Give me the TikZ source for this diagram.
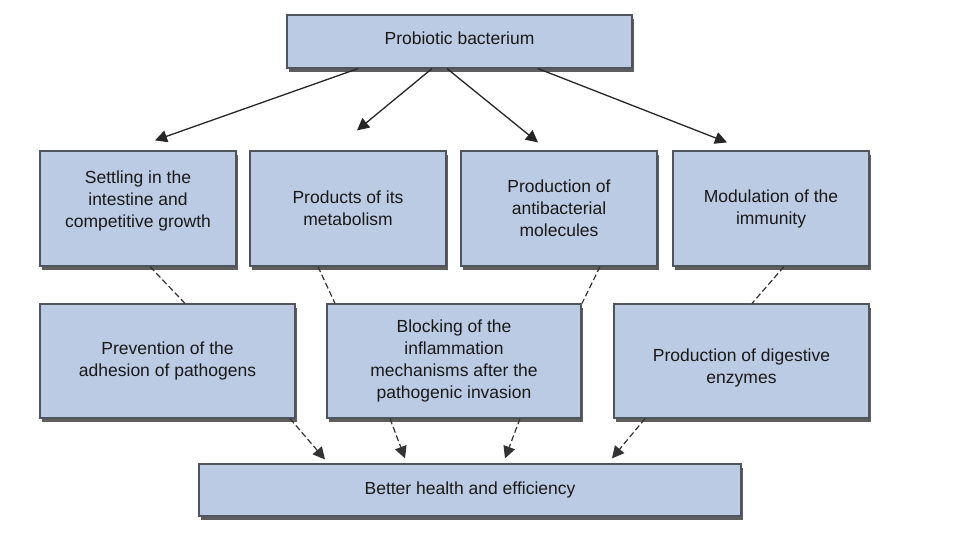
\documentclass[tikz,border=0pt]{standalone}
\usepackage{fontspec}
\setmainfont{Liberation Sans}
\usetikzlibrary{shadows,arrows.meta}
\definecolor{boxfill}{RGB}{188,203,228}
\definecolor{boxline}{RGB}{80,84,92}
\begin{document}
\begin{tikzpicture}[x=1pt,y=-1pt,
  box/.style={draw=boxline, line width=1.2pt, fill=boxfill, align=center,
    inner sep=0pt, font=\fontsize{17.5}{22}\selectfont, text=black!90,
    drop shadow={shadow xshift=2pt, shadow yshift=-4pt, fill=black!70, opacity=0.9}},
  arr/.style={line width=1.3pt, draw=black!85, -{Triangle[length=12pt,width=12pt]}},
  dsh/.style={line width=1.2pt, draw=black!80, dash pattern=on 6pt off 3pt},
  darr/.style={dsh, -{Triangle[length=12pt,width=12pt]}}]
\useasboundingbox (0,0) rectangle (960,540);
% top
\node[box, minimum width=345pt, minimum height=53pt] (top) at (459.5,41.5) {Probiotic bacterium\\[-15pt]};
% row 2
\node[box, minimum width=196pt, minimum height=115pt] (s1) at (138,208.5) {Settling in the\\intestine and\\competitive growth\\[-3pt]};
\node[box, minimum width=196pt, minimum height=115pt] (s2) at (348,208.5) {Products of its\\metabolism};
\node[box, minimum width=196pt, minimum height=115pt] (s3) at (559,208.5) {Production of\\antibacterial\\molecules};
\node[box, minimum width=196pt, minimum height=115pt] (s4) at (771,208.5) {Modulation of the\\immunity};
% row 3
\node[box, minimum width=255pt, minimum height=114pt] (r1) at (167.5,361) {Prevention of the\\adhesion of pathogens};
\node[box, minimum width=254pt, minimum height=114pt] (r2) at (454,361) {Blocking of the\\inflammation\\mechanisms after the\\pathogenic invasion};
\node[box, minimum width=255pt, minimum height=114pt] (r3) at (741.5,361) {Production of digestive\\enzymes\\[-33pt]};
% bottom
\node[box, minimum width=542pt, minimum height=52pt] (bot) at (470,490) {Better health and efficiency};
% solid arrows
\draw[arr] (top.south -| 358,0) -- ([yshift=10pt]s1.north -| 155,0);
\draw[arr] (top.south -| 432,0) -- ([yshift=20pt]s2.north -| 357,0);
\draw[arr] (top.south -| 447,0) -- ([yshift=8pt]s3.north -| 538,0);
\draw[arr] (top.south -| 538,0) -- ([yshift=8pt]s4.north -| 727,0);
% dashed links
\draw[dsh] (s1.south -| 150,0) -- (r1.north -| 185,0);
\draw[dsh] (s2.south -| 318,0) -- (r2.north -| 335,0);
\draw[dsh] (s3.south -| 600,0) -- (r2.north -| 582,0);
\draw[dsh] (s4.south -| 784,0) -- (r3.north -| 752,0);
% dashed arrows
\draw[darr] (r1.south -| 290,0) -- ([yshift=4pt]bot.north -| 325,0);
\draw[darr] (r2.south -| 390,0) -- ([yshift=5pt]bot.north -| 405,0);
\draw[darr] (r2.south -| 520,0) -- ([yshift=5pt]bot.north -| 505,0);
\draw[darr] (r3.south -| 645,0) -- ([yshift=5pt]bot.north -| 612,0);
\end{tikzpicture}
\end{document}
